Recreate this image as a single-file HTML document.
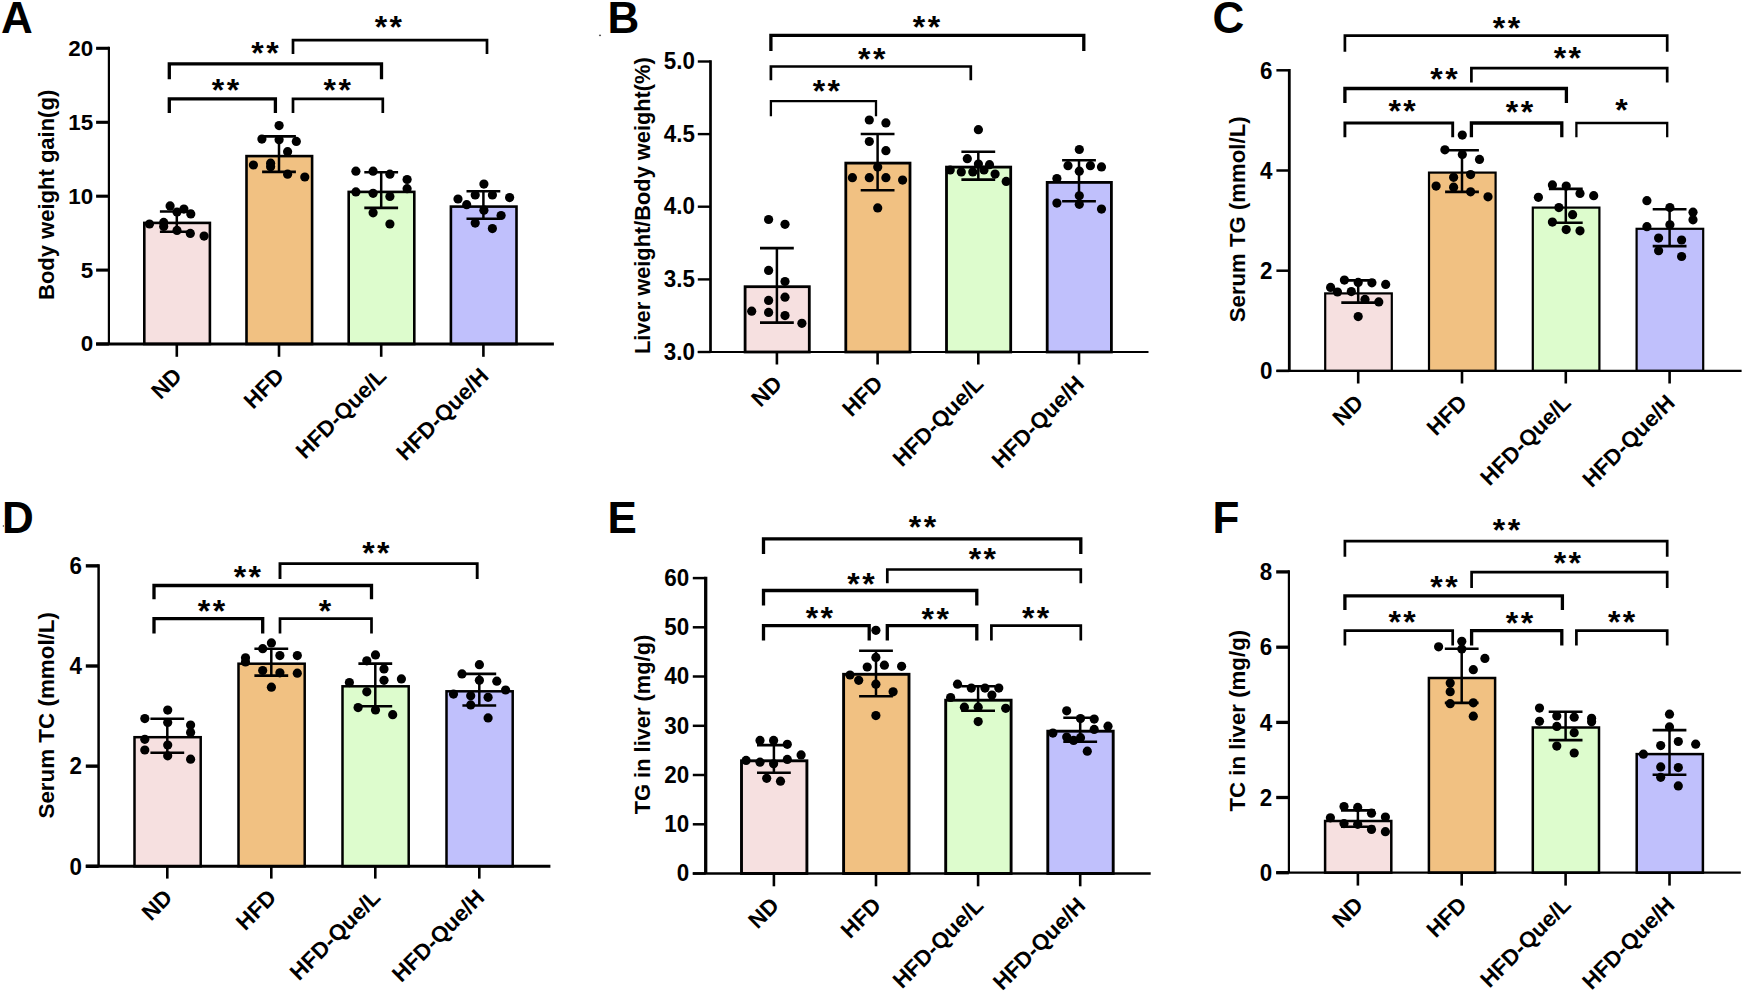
<!DOCTYPE html>
<html lang="en">
<head>
<meta charset="utf-8">
<title>Figure: body weight, liver index and lipid levels</title>
<style>
html,body{margin:0;padding:0;background:#fff;}
body{width:1744px;height:994px;overflow:hidden;}
svg{display:block;}
svg text{font-family:"Liberation Sans", Arial, Helvetica, sans-serif;font-weight:700;fill:#000;}
</style>
</head>
<body>
<svg width="1744" height="994" viewBox="0 0 1744 994">
<rect width="1744" height="994" fill="#fff"/>
<g>
<text x="0.9" y="32.6" font-size="44" text-anchor="start">A</text>
<rect x="144.3" y="222.9" width="65.6" height="121.1" fill="#f6e0e0" stroke="#000" stroke-width="2.6"/>
<rect x="246.5" y="156.1" width="65.6" height="187.9" fill="#f1c182" stroke="#000" stroke-width="2.6"/>
<rect x="348.7" y="191.9" width="65.6" height="152.1" fill="#ddfccd" stroke="#000" stroke-width="2.6"/>
<rect x="450.9" y="206.6" width="65.6" height="137.4" fill="#c0c0fc" stroke="#000" stroke-width="2.6"/>
<line x1="108.9" y1="46.75" x2="108.9" y2="344" stroke="#000" stroke-width="2.2" stroke-linecap="butt"/>
<line x1="96.1" y1="344" x2="553.9" y2="344" stroke="#000" stroke-width="3.2" stroke-linecap="butt"/>
<line x1="96.1" y1="48.3" x2="108.9" y2="48.3" stroke="#000" stroke-width="3.1" stroke-linecap="butt"/>
<text transform="translate(93.1 47.8) scale(1 1)" x="0" y="7.95" font-size="22.4" text-anchor="end">20</text>
<line x1="96.1" y1="122.3" x2="108.9" y2="122.3" stroke="#000" stroke-width="3.1" stroke-linecap="butt"/>
<text transform="translate(93.1 121.8) scale(1 1)" x="0" y="7.95" font-size="22.4" text-anchor="end">15</text>
<line x1="96.1" y1="196.2" x2="108.9" y2="196.2" stroke="#000" stroke-width="3.1" stroke-linecap="butt"/>
<text transform="translate(93.1 195.7) scale(1 1)" x="0" y="7.95" font-size="22.4" text-anchor="end">10</text>
<line x1="96.1" y1="270.1" x2="108.9" y2="270.1" stroke="#000" stroke-width="3.1" stroke-linecap="butt"/>
<text transform="translate(93.1 269.6) scale(1 1)" x="0" y="7.95" font-size="22.4" text-anchor="end">5</text>
<line x1="96.1" y1="344" x2="108.9" y2="344" stroke="#000" stroke-width="3.1" stroke-linecap="butt"/>
<text transform="translate(93.1 343.5) scale(1 1)" x="0" y="7.95" font-size="22.4" text-anchor="end">0</text>
<line x1="176.8" y1="344" x2="176.8" y2="356.8" stroke="#000" stroke-width="2.6" stroke-linecap="butt"/>
<text x="183.3" y="377.4" font-size="22.4" text-anchor="end" transform="rotate(-45 183.3 377.4)">ND</text>
<line x1="279" y1="344" x2="279" y2="356.8" stroke="#000" stroke-width="2.6" stroke-linecap="butt"/>
<text x="285.5" y="377.4" font-size="22.4" text-anchor="end" transform="rotate(-45 285.5 377.4)">HFD</text>
<line x1="381.2" y1="344" x2="381.2" y2="356.8" stroke="#000" stroke-width="2.6" stroke-linecap="butt"/>
<text x="387.7" y="377.4" font-size="22.4" text-anchor="end" transform="rotate(-45 387.7 377.4)">HFD-Que/L</text>
<line x1="483.4" y1="344" x2="483.4" y2="356.8" stroke="#000" stroke-width="2.6" stroke-linecap="butt"/>
<text x="489.9" y="377.4" font-size="22.4" text-anchor="end" transform="rotate(-45 489.9 377.4)">HFD-Que/H</text>
<text x="54.5" y="194.9" font-size="22" text-anchor="middle" transform="rotate(-90 54.5 194.9)">Body weight gain(g)</text>
<line x1="176.8" y1="211.5" x2="176.8" y2="231.8" stroke="#000" stroke-width="2.5" stroke-linecap="butt"/>
<line x1="159.9" y1="211.5" x2="193.7" y2="211.5" stroke="#000" stroke-width="2.6" stroke-linecap="butt"/>
<line x1="159.9" y1="231.8" x2="193.7" y2="231.8" stroke="#000" stroke-width="2.6" stroke-linecap="butt"/>
<line x1="279" y1="136.4" x2="279" y2="171.9" stroke="#000" stroke-width="2.5" stroke-linecap="butt"/>
<line x1="262.1" y1="136.4" x2="295.9" y2="136.4" stroke="#000" stroke-width="2.6" stroke-linecap="butt"/>
<line x1="262.1" y1="171.9" x2="295.9" y2="171.9" stroke="#000" stroke-width="2.6" stroke-linecap="butt"/>
<line x1="381.2" y1="172.3" x2="381.2" y2="207.9" stroke="#000" stroke-width="2.5" stroke-linecap="butt"/>
<line x1="364.3" y1="172.3" x2="398.1" y2="172.3" stroke="#000" stroke-width="2.6" stroke-linecap="butt"/>
<line x1="364.3" y1="207.9" x2="398.1" y2="207.9" stroke="#000" stroke-width="2.6" stroke-linecap="butt"/>
<line x1="483.4" y1="191.2" x2="483.4" y2="218.8" stroke="#000" stroke-width="2.5" stroke-linecap="butt"/>
<line x1="466.5" y1="191.2" x2="500.3" y2="191.2" stroke="#000" stroke-width="2.6" stroke-linecap="butt"/>
<line x1="466.5" y1="218.8" x2="500.3" y2="218.8" stroke="#000" stroke-width="2.6" stroke-linecap="butt"/>
<circle cx="149.5" cy="224" r="4.6"/>
<circle cx="163.7" cy="222.4" r="4.6"/>
<circle cx="163.7" cy="226.5" r="4.6"/>
<circle cx="170.1" cy="205.9" r="4.6"/>
<circle cx="177" cy="212.1" r="4.6"/>
<circle cx="183.9" cy="209.1" r="4.6"/>
<circle cx="190.8" cy="213.9" r="4.6"/>
<circle cx="177" cy="230.4" r="4.6"/>
<circle cx="190.3" cy="233.4" r="4.6"/>
<circle cx="204.1" cy="236.1" r="4.6"/>
<circle cx="279.1" cy="125.6" r="4.6"/>
<circle cx="261.9" cy="139.1" r="4.6"/>
<circle cx="279.1" cy="139.8" r="4.6"/>
<circle cx="296.3" cy="141.4" r="4.6"/>
<circle cx="287.6" cy="151.7" r="4.6"/>
<circle cx="253.4" cy="165" r="4.6"/>
<circle cx="270.6" cy="163.2" r="4.6"/>
<circle cx="270.6" cy="166.7" r="4.6"/>
<circle cx="287.6" cy="174.2" r="4.6"/>
<circle cx="304.8" cy="177" r="4.6"/>
<circle cx="355.9" cy="171.2" r="4.6"/>
<circle cx="373.1" cy="171.2" r="4.6"/>
<circle cx="389.9" cy="174.2" r="4.6"/>
<circle cx="407.1" cy="179.5" r="4.6"/>
<circle cx="407.1" cy="188.7" r="4.6"/>
<circle cx="355.9" cy="191.9" r="4.6"/>
<circle cx="373.1" cy="193.3" r="4.6"/>
<circle cx="389.9" cy="196.5" r="4.6"/>
<circle cx="373.1" cy="212.8" r="4.6"/>
<circle cx="389.9" cy="224" r="4.6"/>
<circle cx="483.9" cy="184.1" r="4.6"/>
<circle cx="475.2" cy="194.9" r="4.6"/>
<circle cx="492.4" cy="194.9" r="4.6"/>
<circle cx="458" cy="199" r="4.6"/>
<circle cx="509.6" cy="197.6" r="4.6"/>
<circle cx="466.7" cy="204.7" r="4.6"/>
<circle cx="483.9" cy="210.2" r="4.6"/>
<circle cx="501.1" cy="215.5" r="4.6"/>
<circle cx="475.2" cy="223.1" r="4.6"/>
<circle cx="492.4" cy="228.6" r="4.6"/>
<path d="M169.3 112.9V98.8H275.4V112.9" fill="none" stroke="#000" stroke-width="3.3" stroke-linejoin="miter"/>
<text x="226.7" y="101.12" font-size="32" text-anchor="middle" letter-spacing="2.4">**</text>
<path d="M293 112.9V98.8H382.8V112.9" fill="none" stroke="#000" stroke-width="2.7" stroke-linejoin="miter"/>
<text x="338.4" y="101.12" font-size="32" text-anchor="middle" letter-spacing="2.4">**</text>
<path d="M169.3 79.3V63.9H381.5V79.3" fill="none" stroke="#000" stroke-width="3.3" stroke-linejoin="miter"/>
<text x="266.2" y="63.52" font-size="32" text-anchor="middle" letter-spacing="2.4">**</text>
<path d="M293 53.9V40.2H487V53.9" fill="none" stroke="#000" stroke-width="2.7" stroke-linejoin="miter"/>
<text x="389.6" y="37.72" font-size="32" text-anchor="middle" letter-spacing="2.4">**</text>
</g>
<g>
<text x="607.5" y="32.6" font-size="44" text-anchor="start">B</text>
<rect x="745.1" y="286.7" width="64.2" height="65.3" fill="#f6e0e0" stroke="#000" stroke-width="2.8"/>
<rect x="845.8" y="163.1" width="64.2" height="188.9" fill="#f1c182" stroke="#000" stroke-width="2.8"/>
<rect x="946.5" y="167.1" width="64.2" height="184.9" fill="#ddfccd" stroke="#000" stroke-width="2.8"/>
<rect x="1047.2" y="182.4" width="64.2" height="169.6" fill="#c0c0fc" stroke="#000" stroke-width="2.8"/>
<line x1="710.5" y1="60.3" x2="710.5" y2="352" stroke="#000" stroke-width="2.7" stroke-linecap="butt"/>
<line x1="697.8" y1="352" x2="1148.5" y2="352" stroke="#000" stroke-width="2.2" stroke-linecap="butt"/>
<line x1="697.8" y1="61.5" x2="710.5" y2="61.5" stroke="#000" stroke-width="2.4" stroke-linecap="butt"/>
<text transform="translate(694.9 61) scale(1 1.04)" x="0" y="7.95" font-size="22.4" text-anchor="end">5.0</text>
<line x1="697.8" y1="134.1" x2="710.5" y2="134.1" stroke="#000" stroke-width="2.4" stroke-linecap="butt"/>
<text transform="translate(694.9 133.6) scale(1 1.04)" x="0" y="7.95" font-size="22.4" text-anchor="end">4.5</text>
<line x1="697.8" y1="206.7" x2="710.5" y2="206.7" stroke="#000" stroke-width="2.4" stroke-linecap="butt"/>
<text transform="translate(694.9 206.2) scale(1 1.04)" x="0" y="7.95" font-size="22.4" text-anchor="end">4.0</text>
<line x1="697.8" y1="279.4" x2="710.5" y2="279.4" stroke="#000" stroke-width="2.4" stroke-linecap="butt"/>
<text transform="translate(694.9 278.9) scale(1 1.04)" x="0" y="7.95" font-size="22.4" text-anchor="end">3.5</text>
<line x1="697.8" y1="352" x2="710.5" y2="352" stroke="#000" stroke-width="2.4" stroke-linecap="butt"/>
<text transform="translate(694.9 351.5) scale(1 1.04)" x="0" y="7.95" font-size="22.4" text-anchor="end">3.0</text>
<line x1="776.9" y1="352" x2="776.9" y2="364.5" stroke="#000" stroke-width="2.6" stroke-linecap="butt"/>
<text x="783.4" y="385.1" font-size="22.4" text-anchor="end" transform="rotate(-45 783.4 385.1)">ND</text>
<line x1="877.6" y1="352" x2="877.6" y2="364.5" stroke="#000" stroke-width="2.6" stroke-linecap="butt"/>
<text x="884.1" y="385.1" font-size="22.4" text-anchor="end" transform="rotate(-45 884.1 385.1)">HFD</text>
<line x1="978.3" y1="352" x2="978.3" y2="364.5" stroke="#000" stroke-width="2.6" stroke-linecap="butt"/>
<text x="984.8" y="385.1" font-size="22.4" text-anchor="end" transform="rotate(-45 984.8 385.1)">HFD-Que/L</text>
<line x1="1079" y1="352" x2="1079" y2="364.5" stroke="#000" stroke-width="2.6" stroke-linecap="butt"/>
<text x="1085.5" y="385.1" font-size="22.4" text-anchor="end" transform="rotate(-45 1085.5 385.1)">HFD-Que/H</text>
<text x="649.9" y="205.6" font-size="21.8" text-anchor="middle" transform="rotate(-90 649.9 205.6)">Liver weight/Body weight(%)</text>
<line x1="776.9" y1="248.1" x2="776.9" y2="322.6" stroke="#000" stroke-width="2.5" stroke-linecap="butt"/>
<line x1="760" y1="248.1" x2="793.8" y2="248.1" stroke="#000" stroke-width="2.6" stroke-linecap="butt"/>
<line x1="760" y1="322.6" x2="793.8" y2="322.6" stroke="#000" stroke-width="2.6" stroke-linecap="butt"/>
<line x1="877.6" y1="134" x2="877.6" y2="190.2" stroke="#000" stroke-width="2.5" stroke-linecap="butt"/>
<line x1="860.7" y1="134" x2="894.5" y2="134" stroke="#000" stroke-width="2.6" stroke-linecap="butt"/>
<line x1="860.7" y1="190.2" x2="894.5" y2="190.2" stroke="#000" stroke-width="2.6" stroke-linecap="butt"/>
<line x1="978.3" y1="151.7" x2="978.3" y2="179.6" stroke="#000" stroke-width="2.5" stroke-linecap="butt"/>
<line x1="961.4" y1="151.7" x2="995.2" y2="151.7" stroke="#000" stroke-width="2.6" stroke-linecap="butt"/>
<line x1="961.4" y1="179.6" x2="995.2" y2="179.6" stroke="#000" stroke-width="2.6" stroke-linecap="butt"/>
<line x1="1079" y1="160.3" x2="1079" y2="201.2" stroke="#000" stroke-width="2.5" stroke-linecap="butt"/>
<line x1="1062.1" y1="160.3" x2="1095.9" y2="160.3" stroke="#000" stroke-width="2.6" stroke-linecap="butt"/>
<line x1="1062.1" y1="201.2" x2="1095.9" y2="201.2" stroke="#000" stroke-width="2.6" stroke-linecap="butt"/>
<circle cx="768.6" cy="219.5" r="4.6"/>
<circle cx="785" cy="224.3" r="4.6"/>
<circle cx="768.6" cy="270.4" r="4.6"/>
<circle cx="785" cy="281.5" r="4.6"/>
<circle cx="768.6" cy="300.4" r="4.6"/>
<circle cx="785" cy="297.2" r="4.6"/>
<circle cx="751.7" cy="311.2" r="4.6"/>
<circle cx="768.6" cy="312.4" r="4.6"/>
<circle cx="785" cy="315.6" r="4.6"/>
<circle cx="801.9" cy="323.3" r="4.6"/>
<circle cx="869.3" cy="120" r="4.6"/>
<circle cx="885.9" cy="122.9" r="4.6"/>
<circle cx="869.3" cy="141.5" r="4.6"/>
<circle cx="885.9" cy="150.7" r="4.6"/>
<circle cx="877.7" cy="167.1" r="4.6"/>
<circle cx="852.4" cy="177.7" r="4.6"/>
<circle cx="869.3" cy="177.7" r="4.6"/>
<circle cx="885.9" cy="177.7" r="4.6"/>
<circle cx="902.6" cy="180.1" r="4.6"/>
<circle cx="877.7" cy="207.9" r="4.6"/>
<circle cx="978.4" cy="129.7" r="4.6"/>
<circle cx="967.3" cy="158.7" r="4.6"/>
<circle cx="978.4" cy="164" r="4.6"/>
<circle cx="989.5" cy="164.7" r="4.6"/>
<circle cx="984" cy="170" r="4.6"/>
<circle cx="950.2" cy="170" r="4.6"/>
<circle cx="961.3" cy="171.9" r="4.6"/>
<circle cx="972.8" cy="171.9" r="4.6"/>
<circle cx="995.1" cy="174.1" r="4.6"/>
<circle cx="1006.2" cy="181.4" r="4.6"/>
<circle cx="1079.3" cy="149.5" r="4.6"/>
<circle cx="1068" cy="165.7" r="4.6"/>
<circle cx="1090.4" cy="165.7" r="4.6"/>
<circle cx="1101.5" cy="166.9" r="4.6"/>
<circle cx="1079.3" cy="171.2" r="4.6"/>
<circle cx="1056.9" cy="178.5" r="4.6"/>
<circle cx="1079.3" cy="195.8" r="4.6"/>
<circle cx="1056.9" cy="203.1" r="4.6"/>
<circle cx="1079.3" cy="204.3" r="4.6"/>
<circle cx="1101.5" cy="209.1" r="4.6"/>
<path d="M770.9 116.2V101.1H876V116.2" fill="none" stroke="#000" stroke-width="2.3" stroke-linejoin="miter"/>
<text x="827.6" y="102.42" font-size="32" text-anchor="middle" letter-spacing="2.4">**</text>
<path d="M770.9 80.3V66.5H970.8V80.3" fill="none" stroke="#000" stroke-width="2.7" stroke-linejoin="miter"/>
<text x="872.9" y="70.22" font-size="32" text-anchor="middle" letter-spacing="2.4">**</text>
<path d="M770.9 51.1V35.3H1083.8V51.1" fill="none" stroke="#000" stroke-width="3.3" stroke-linejoin="miter"/>
<text x="927.7" y="38.02" font-size="32" text-anchor="middle" letter-spacing="2.4">**</text>
</g>
<g>
<text x="1212.5" y="32.6" font-size="44" text-anchor="start">C</text>
<rect x="1325.2" y="293.4" width="66.6" height="77.5" fill="#f6e0e0" stroke="#000" stroke-width="2.2"/>
<rect x="1429" y="172.6" width="66.6" height="198.3" fill="#f1c182" stroke="#000" stroke-width="2.2"/>
<rect x="1532.8" y="207.6" width="66.6" height="163.3" fill="#ddfccd" stroke="#000" stroke-width="2.2"/>
<rect x="1636.6" y="228.8" width="66.6" height="142.1" fill="#c0c0fc" stroke="#000" stroke-width="2.2"/>
<line x1="1289.3" y1="69.05" x2="1289.3" y2="370.9" stroke="#000" stroke-width="2.8" stroke-linecap="butt"/>
<line x1="1276.4" y1="370.9" x2="1741.6" y2="370.9" stroke="#000" stroke-width="2.1" stroke-linecap="butt"/>
<line x1="1276.4" y1="70.3" x2="1289.3" y2="70.3" stroke="#000" stroke-width="2.5" stroke-linecap="butt"/>
<text transform="translate(1272.5 69.8) scale(1 1.1)" x="0" y="7.95" font-size="22.4" text-anchor="end">6</text>
<line x1="1276.4" y1="170.5" x2="1289.3" y2="170.5" stroke="#000" stroke-width="2.5" stroke-linecap="butt"/>
<text transform="translate(1272.5 170) scale(1 1.1)" x="0" y="7.95" font-size="22.4" text-anchor="end">4</text>
<line x1="1276.4" y1="270.7" x2="1289.3" y2="270.7" stroke="#000" stroke-width="2.5" stroke-linecap="butt"/>
<text transform="translate(1272.5 270.2) scale(1 1.1)" x="0" y="7.95" font-size="22.4" text-anchor="end">2</text>
<line x1="1276.4" y1="370.9" x2="1289.3" y2="370.9" stroke="#000" stroke-width="2.5" stroke-linecap="butt"/>
<text transform="translate(1272.5 370.4) scale(1 1.1)" x="0" y="7.95" font-size="22.4" text-anchor="end">0</text>
<line x1="1358.2" y1="370.9" x2="1358.2" y2="383.5" stroke="#000" stroke-width="2.6" stroke-linecap="butt"/>
<text x="1364.7" y="404.1" font-size="22.4" text-anchor="end" transform="rotate(-45 1364.7 404.1)">ND</text>
<line x1="1462" y1="370.9" x2="1462" y2="383.5" stroke="#000" stroke-width="2.6" stroke-linecap="butt"/>
<text x="1468.5" y="404.1" font-size="22.4" text-anchor="end" transform="rotate(-45 1468.5 404.1)">HFD</text>
<line x1="1565.8" y1="370.9" x2="1565.8" y2="383.5" stroke="#000" stroke-width="2.6" stroke-linecap="butt"/>
<text x="1572.3" y="404.1" font-size="22.4" text-anchor="end" transform="rotate(-45 1572.3 404.1)">HFD-Que/L</text>
<line x1="1669.6" y1="370.9" x2="1669.6" y2="383.5" stroke="#000" stroke-width="2.6" stroke-linecap="butt"/>
<text x="1676.1" y="404.1" font-size="22.4" text-anchor="end" transform="rotate(-45 1676.1 404.1)">HFD-Que/H</text>
<text x="1245" y="219.3" font-size="22.2" text-anchor="middle" transform="rotate(-90 1245 219.3)">Serum TG (mmol/L)</text>
<line x1="1358.2" y1="280.4" x2="1358.2" y2="302.6" stroke="#000" stroke-width="2.5" stroke-linecap="butt"/>
<line x1="1341.3" y1="280.4" x2="1375.1" y2="280.4" stroke="#000" stroke-width="2.6" stroke-linecap="butt"/>
<line x1="1341.3" y1="302.6" x2="1375.1" y2="302.6" stroke="#000" stroke-width="2.6" stroke-linecap="butt"/>
<line x1="1462" y1="150.3" x2="1462" y2="191.9" stroke="#000" stroke-width="2.5" stroke-linecap="butt"/>
<line x1="1445.1" y1="150.3" x2="1478.9" y2="150.3" stroke="#000" stroke-width="2.6" stroke-linecap="butt"/>
<line x1="1445.1" y1="191.9" x2="1478.9" y2="191.9" stroke="#000" stroke-width="2.6" stroke-linecap="butt"/>
<line x1="1565.8" y1="188.9" x2="1565.8" y2="222.8" stroke="#000" stroke-width="2.5" stroke-linecap="butt"/>
<line x1="1548.9" y1="188.9" x2="1582.7" y2="188.9" stroke="#000" stroke-width="2.6" stroke-linecap="butt"/>
<line x1="1548.9" y1="222.8" x2="1582.7" y2="222.8" stroke="#000" stroke-width="2.6" stroke-linecap="butt"/>
<line x1="1669.6" y1="209.2" x2="1669.6" y2="246.1" stroke="#000" stroke-width="2.5" stroke-linecap="butt"/>
<line x1="1652.7" y1="209.2" x2="1686.5" y2="209.2" stroke="#000" stroke-width="2.6" stroke-linecap="butt"/>
<line x1="1652.7" y1="246.1" x2="1686.5" y2="246.1" stroke="#000" stroke-width="2.6" stroke-linecap="butt"/>
<circle cx="1344.4" cy="280.1" r="4.6"/>
<circle cx="1358.2" cy="282.4" r="4.6"/>
<circle cx="1371.9" cy="282.8" r="4.6"/>
<circle cx="1385.7" cy="284.4" r="4.6"/>
<circle cx="1330.6" cy="287.4" r="4.6"/>
<circle cx="1337.5" cy="292" r="4.6"/>
<circle cx="1351.3" cy="291.6" r="4.6"/>
<circle cx="1365" cy="299.4" r="4.6"/>
<circle cx="1378.8" cy="301.9" r="4.6"/>
<circle cx="1358.2" cy="316.6" r="4.6"/>
<circle cx="1462.3" cy="135.1" r="4.6"/>
<circle cx="1444.9" cy="149.8" r="4.6"/>
<circle cx="1462.3" cy="154.4" r="4.6"/>
<circle cx="1479.5" cy="159.4" r="4.6"/>
<circle cx="1470.6" cy="174.6" r="4.6"/>
<circle cx="1453.6" cy="177.3" r="4.6"/>
<circle cx="1436.1" cy="186.1" r="4.6"/>
<circle cx="1453.6" cy="187.2" r="4.6"/>
<circle cx="1470.6" cy="191.8" r="4.6"/>
<circle cx="1488" cy="196.8" r="4.6"/>
<circle cx="1552.4" cy="184.9" r="4.6"/>
<circle cx="1566.2" cy="186.1" r="4.6"/>
<circle cx="1580" cy="193.4" r="4.6"/>
<circle cx="1593.7" cy="195.7" r="4.6"/>
<circle cx="1538.4" cy="197.3" r="4.6"/>
<circle cx="1558.9" cy="207.6" r="4.6"/>
<circle cx="1572.6" cy="214.7" r="4.6"/>
<circle cx="1552.4" cy="222.1" r="4.6"/>
<circle cx="1566.2" cy="229.6" r="4.6"/>
<circle cx="1580" cy="230.8" r="4.6"/>
<circle cx="1646.9" cy="200.7" r="4.6"/>
<circle cx="1669.9" cy="207.6" r="4.6"/>
<circle cx="1693" cy="212.2" r="4.6"/>
<circle cx="1693" cy="219.8" r="4.6"/>
<circle cx="1646.9" cy="226.7" r="4.6"/>
<circle cx="1669.9" cy="224.8" r="4.6"/>
<circle cx="1658.6" cy="238.1" r="4.6"/>
<circle cx="1681.6" cy="240" r="4.6"/>
<circle cx="1658.6" cy="250.7" r="4.6"/>
<circle cx="1681.6" cy="256.5" r="4.6"/>
<path d="M1344.9 137.2V123H1452.7V137.2" fill="none" stroke="#000" stroke-width="2.9" stroke-linejoin="miter"/>
<text x="1403.3" y="122.32" font-size="32" text-anchor="middle" letter-spacing="2.4">**</text>
<path d="M1471.4 137.2V123H1561.8V137.2" fill="none" stroke="#000" stroke-width="3.3" stroke-linejoin="miter"/>
<text x="1520.7" y="123.32" font-size="32" text-anchor="middle" letter-spacing="2.4">**</text>
<path d="M1576.4 137.2V123H1667.2V137.2" fill="none" stroke="#000" stroke-width="2.3" stroke-linejoin="miter"/>
<text x="1621.6" y="120.72" font-size="32" text-anchor="middle">*</text>
<path d="M1344.9 102.9V88.5H1566.4V102.9" fill="none" stroke="#000" stroke-width="3.3" stroke-linejoin="miter"/>
<text x="1445.2" y="90.12" font-size="32" text-anchor="middle" letter-spacing="2.4">**</text>
<path d="M1471.4 82.6V68.2H1667.2V82.6" fill="none" stroke="#000" stroke-width="2.7" stroke-linejoin="miter"/>
<text x="1568.6" y="69.22" font-size="32" text-anchor="middle" letter-spacing="2.4">**</text>
<path d="M1344.9 51.7V35.6H1667.2V51.7" fill="none" stroke="#000" stroke-width="2.7" stroke-linejoin="miter"/>
<text x="1507.7" y="38.62" font-size="32" text-anchor="middle" letter-spacing="2.4">**</text>
</g>
<g>
<text x="1.9" y="533" font-size="44" text-anchor="start">D</text>
<rect x="134.5" y="737.2" width="66.2" height="129.1" fill="#f6e0e0" stroke="#000" stroke-width="2.5"/>
<rect x="238.5" y="663.7" width="66.2" height="202.6" fill="#f1c182" stroke="#000" stroke-width="2.5"/>
<rect x="342.5" y="686.3" width="66.2" height="180" fill="#ddfccd" stroke="#000" stroke-width="2.5"/>
<rect x="446.5" y="691.3" width="66.2" height="175" fill="#c0c0fc" stroke="#000" stroke-width="2.5"/>
<line x1="98.6" y1="564.15" x2="98.6" y2="866.3" stroke="#000" stroke-width="2.5" stroke-linecap="butt"/>
<line x1="85.8" y1="866.3" x2="550.4" y2="866.3" stroke="#000" stroke-width="3.1" stroke-linecap="butt"/>
<line x1="85.8" y1="565.85" x2="98.6" y2="565.85" stroke="#000" stroke-width="3.4" stroke-linecap="butt"/>
<text transform="translate(81.9 565.35) scale(1 1.1)" x="0" y="7.95" font-size="22.4" text-anchor="end">6</text>
<line x1="85.8" y1="666" x2="98.6" y2="666" stroke="#000" stroke-width="3.4" stroke-linecap="butt"/>
<text transform="translate(81.9 665.5) scale(1 1.1)" x="0" y="7.95" font-size="22.4" text-anchor="end">4</text>
<line x1="85.8" y1="766.15" x2="98.6" y2="766.15" stroke="#000" stroke-width="3.4" stroke-linecap="butt"/>
<text transform="translate(81.9 765.65) scale(1 1.1)" x="0" y="7.95" font-size="22.4" text-anchor="end">2</text>
<line x1="85.8" y1="866.3" x2="98.6" y2="866.3" stroke="#000" stroke-width="3.4" stroke-linecap="butt"/>
<text transform="translate(81.9 865.8) scale(1 1.1)" x="0" y="7.95" font-size="22.4" text-anchor="end">0</text>
<line x1="167.3" y1="866.3" x2="167.3" y2="878.6" stroke="#000" stroke-width="2.6" stroke-linecap="butt"/>
<text x="173.8" y="898.9" font-size="22.4" text-anchor="end" transform="rotate(-45 173.8 898.9)">ND</text>
<line x1="271.3" y1="866.3" x2="271.3" y2="878.6" stroke="#000" stroke-width="2.6" stroke-linecap="butt"/>
<text x="277.8" y="898.9" font-size="22.4" text-anchor="end" transform="rotate(-45 277.8 898.9)">HFD</text>
<line x1="375.3" y1="866.3" x2="375.3" y2="878.6" stroke="#000" stroke-width="2.6" stroke-linecap="butt"/>
<text x="381.8" y="898.9" font-size="22.4" text-anchor="end" transform="rotate(-45 381.8 898.9)">HFD-Que/L</text>
<line x1="479.3" y1="866.3" x2="479.3" y2="878.6" stroke="#000" stroke-width="2.6" stroke-linecap="butt"/>
<text x="485.8" y="898.9" font-size="22.4" text-anchor="end" transform="rotate(-45 485.8 898.9)">HFD-Que/H</text>
<text x="54.4" y="715.3" font-size="22.4" text-anchor="middle" transform="rotate(-90 54.4 715.3)">Serum TC (mmol/L)</text>
<line x1="167.3" y1="718.8" x2="167.3" y2="752.8" stroke="#000" stroke-width="2.5" stroke-linecap="butt"/>
<line x1="150.4" y1="718.8" x2="184.2" y2="718.8" stroke="#000" stroke-width="2.6" stroke-linecap="butt"/>
<line x1="150.4" y1="752.8" x2="184.2" y2="752.8" stroke="#000" stroke-width="2.6" stroke-linecap="butt"/>
<line x1="271.3" y1="648.7" x2="271.3" y2="675.6" stroke="#000" stroke-width="2.5" stroke-linecap="butt"/>
<line x1="254.4" y1="648.7" x2="288.2" y2="648.7" stroke="#000" stroke-width="2.6" stroke-linecap="butt"/>
<line x1="254.4" y1="675.6" x2="288.2" y2="675.6" stroke="#000" stroke-width="2.6" stroke-linecap="butt"/>
<line x1="375.3" y1="663.6" x2="375.3" y2="706.2" stroke="#000" stroke-width="2.5" stroke-linecap="butt"/>
<line x1="358.4" y1="663.6" x2="392.2" y2="663.6" stroke="#000" stroke-width="2.6" stroke-linecap="butt"/>
<line x1="358.4" y1="706.2" x2="392.2" y2="706.2" stroke="#000" stroke-width="2.6" stroke-linecap="butt"/>
<line x1="479.3" y1="673.9" x2="479.3" y2="705.5" stroke="#000" stroke-width="2.5" stroke-linecap="butt"/>
<line x1="462.4" y1="673.9" x2="496.2" y2="673.9" stroke="#000" stroke-width="2.6" stroke-linecap="butt"/>
<line x1="462.4" y1="705.5" x2="496.2" y2="705.5" stroke="#000" stroke-width="2.6" stroke-linecap="butt"/>
<circle cx="167.7" cy="710.1" r="4.6"/>
<circle cx="144.8" cy="718.6" r="4.6"/>
<circle cx="167.7" cy="722.5" r="4.6"/>
<circle cx="190.6" cy="725" r="4.6"/>
<circle cx="190.6" cy="732.4" r="4.6"/>
<circle cx="144.8" cy="739.3" r="4.6"/>
<circle cx="167.7" cy="745" r="4.6"/>
<circle cx="144.8" cy="750" r="4.6"/>
<circle cx="167.7" cy="755.8" r="4.6"/>
<circle cx="190.6" cy="759.2" r="4.6"/>
<circle cx="271.4" cy="642.9" r="4.6"/>
<circle cx="262.7" cy="648.7" r="4.6"/>
<circle cx="279.9" cy="655.6" r="4.6"/>
<circle cx="297.3" cy="655.6" r="4.6"/>
<circle cx="245.5" cy="657.8" r="4.6"/>
<circle cx="245.5" cy="662" r="4.6"/>
<circle cx="262.7" cy="670.5" r="4.6"/>
<circle cx="279.9" cy="672.8" r="4.6"/>
<circle cx="297.3" cy="673.2" r="4.6"/>
<circle cx="271.4" cy="687.2" r="4.6"/>
<circle cx="375.5" cy="654.9" r="4.6"/>
<circle cx="366.8" cy="660.8" r="4.6"/>
<circle cx="384" cy="668.9" r="4.6"/>
<circle cx="384" cy="680.3" r="4.6"/>
<circle cx="401.4" cy="678.9" r="4.6"/>
<circle cx="349.4" cy="682.6" r="4.6"/>
<circle cx="366.8" cy="691.8" r="4.6"/>
<circle cx="358.1" cy="707.6" r="4.6"/>
<circle cx="375.5" cy="709.9" r="4.6"/>
<circle cx="392.7" cy="714.7" r="4.6"/>
<circle cx="479.4" cy="664.7" r="4.6"/>
<circle cx="462" cy="673.9" r="4.6"/>
<circle cx="479.4" cy="680.3" r="4.6"/>
<circle cx="496.8" cy="681.2" r="4.6"/>
<circle cx="505.6" cy="690" r="4.6"/>
<circle cx="453.5" cy="694.1" r="4.6"/>
<circle cx="470.7" cy="695.7" r="4.6"/>
<circle cx="488.1" cy="697.3" r="4.6"/>
<circle cx="470.7" cy="704.9" r="4.6"/>
<circle cx="488.1" cy="717.9" r="4.6"/>
<path d="M154 633.5V618.7H262.7V633.5" fill="none" stroke="#000" stroke-width="3.3" stroke-linejoin="miter"/>
<text x="212.7" y="622.42" font-size="32" text-anchor="middle" letter-spacing="2.4">**</text>
<path d="M280 633.5V618.7H371.5V633.5" fill="none" stroke="#000" stroke-width="2.7" stroke-linejoin="miter"/>
<text x="324.9" y="621.72" font-size="32" text-anchor="middle">*</text>
<path d="M154 599.3V585.5H371.5V599.3" fill="none" stroke="#000" stroke-width="3.3" stroke-linejoin="miter"/>
<text x="248.6" y="587.82" font-size="32" text-anchor="middle" letter-spacing="2.4">**</text>
<path d="M280 578.9V563.6H477.2V578.9" fill="none" stroke="#000" stroke-width="2.9" stroke-linejoin="miter"/>
<text x="377" y="564.22" font-size="32" text-anchor="middle" letter-spacing="2.4">**</text>
</g>
<g>
<text x="607.5" y="533" font-size="44" text-anchor="start">E</text>
<rect x="741.5" y="760.8" width="65.4" height="112.7" fill="#f6e0e0" stroke="#000" stroke-width="2.9"/>
<rect x="843.6" y="674.3" width="65.4" height="199.2" fill="#f1c182" stroke="#000" stroke-width="2.9"/>
<rect x="945.7" y="700.2" width="65.4" height="173.3" fill="#ddfccd" stroke="#000" stroke-width="2.9"/>
<rect x="1047.8" y="731.2" width="65.4" height="142.3" fill="#c0c0fc" stroke="#000" stroke-width="2.9"/>
<line x1="705.7" y1="576.85" x2="705.7" y2="873.5" stroke="#000" stroke-width="3.3" stroke-linecap="butt"/>
<line x1="692.8" y1="873.5" x2="1150.7" y2="873.5" stroke="#000" stroke-width="2.3" stroke-linecap="butt"/>
<line x1="692.8" y1="578.1" x2="705.7" y2="578.1" stroke="#000" stroke-width="2.5" stroke-linecap="butt"/>
<text transform="translate(689.1 577.6) scale(1 1.05)" x="0" y="7.95" font-size="22.4" text-anchor="end">60</text>
<line x1="692.8" y1="627.3" x2="705.7" y2="627.3" stroke="#000" stroke-width="2.5" stroke-linecap="butt"/>
<text transform="translate(689.1 626.8) scale(1 1.05)" x="0" y="7.95" font-size="22.4" text-anchor="end">50</text>
<line x1="692.8" y1="676.5" x2="705.7" y2="676.5" stroke="#000" stroke-width="2.5" stroke-linecap="butt"/>
<text transform="translate(689.1 676) scale(1 1.05)" x="0" y="7.95" font-size="22.4" text-anchor="end">40</text>
<line x1="692.8" y1="725.8" x2="705.7" y2="725.8" stroke="#000" stroke-width="2.5" stroke-linecap="butt"/>
<text transform="translate(689.1 725.3) scale(1 1.05)" x="0" y="7.95" font-size="22.4" text-anchor="end">30</text>
<line x1="692.8" y1="775" x2="705.7" y2="775" stroke="#000" stroke-width="2.5" stroke-linecap="butt"/>
<text transform="translate(689.1 774.5) scale(1 1.05)" x="0" y="7.95" font-size="22.4" text-anchor="end">20</text>
<line x1="692.8" y1="824.3" x2="705.7" y2="824.3" stroke="#000" stroke-width="2.5" stroke-linecap="butt"/>
<text transform="translate(689.1 823.8) scale(1 1.05)" x="0" y="7.95" font-size="22.4" text-anchor="end">10</text>
<line x1="692.8" y1="873.5" x2="705.7" y2="873.5" stroke="#000" stroke-width="2.5" stroke-linecap="butt"/>
<text transform="translate(689.1 873) scale(1 1.05)" x="0" y="7.95" font-size="22.4" text-anchor="end">0</text>
<line x1="773.9" y1="873.5" x2="773.9" y2="886.3" stroke="#000" stroke-width="2.6" stroke-linecap="butt"/>
<text x="780.4" y="906.9" font-size="22.4" text-anchor="end" transform="rotate(-45 780.4 906.9)">ND</text>
<line x1="876" y1="873.5" x2="876" y2="886.3" stroke="#000" stroke-width="2.6" stroke-linecap="butt"/>
<text x="882.5" y="906.9" font-size="22.4" text-anchor="end" transform="rotate(-45 882.5 906.9)">HFD</text>
<line x1="978.1" y1="873.5" x2="978.1" y2="886.3" stroke="#000" stroke-width="2.6" stroke-linecap="butt"/>
<text x="984.6" y="906.9" font-size="22.4" text-anchor="end" transform="rotate(-45 984.6 906.9)">HFD-Que/L</text>
<line x1="1080.2" y1="873.5" x2="1080.2" y2="886.3" stroke="#000" stroke-width="2.6" stroke-linecap="butt"/>
<text x="1086.7" y="906.9" font-size="22.4" text-anchor="end" transform="rotate(-45 1086.7 906.9)">HFD-Que/H</text>
<text x="650.3" y="724.5" font-size="21.85" text-anchor="middle" transform="rotate(-90 650.3 724.5)">TG in liver (mg/g)</text>
<line x1="773.9" y1="745.1" x2="773.9" y2="772.7" stroke="#000" stroke-width="2.5" stroke-linecap="butt"/>
<line x1="757" y1="745.1" x2="790.8" y2="745.1" stroke="#000" stroke-width="2.6" stroke-linecap="butt"/>
<line x1="757" y1="772.7" x2="790.8" y2="772.7" stroke="#000" stroke-width="2.6" stroke-linecap="butt"/>
<line x1="876" y1="650.7" x2="876" y2="696.2" stroke="#000" stroke-width="2.5" stroke-linecap="butt"/>
<line x1="859.1" y1="650.7" x2="892.9" y2="650.7" stroke="#000" stroke-width="2.6" stroke-linecap="butt"/>
<line x1="859.1" y1="696.2" x2="892.9" y2="696.2" stroke="#000" stroke-width="2.6" stroke-linecap="butt"/>
<line x1="978.1" y1="686.2" x2="978.1" y2="710.8" stroke="#000" stroke-width="2.5" stroke-linecap="butt"/>
<line x1="961.2" y1="686.2" x2="995" y2="686.2" stroke="#000" stroke-width="2.6" stroke-linecap="butt"/>
<line x1="961.2" y1="710.8" x2="995" y2="710.8" stroke="#000" stroke-width="2.6" stroke-linecap="butt"/>
<line x1="1080.2" y1="717.8" x2="1080.2" y2="741.8" stroke="#000" stroke-width="2.5" stroke-linecap="butt"/>
<line x1="1063.3" y1="717.8" x2="1097.1" y2="717.8" stroke="#000" stroke-width="2.6" stroke-linecap="butt"/>
<line x1="1063.3" y1="741.8" x2="1097.1" y2="741.8" stroke="#000" stroke-width="2.6" stroke-linecap="butt"/>
<circle cx="760" cy="740.4" r="4.6"/>
<circle cx="773.6" cy="740.4" r="4.6"/>
<circle cx="787.3" cy="744.3" r="4.6"/>
<circle cx="801.1" cy="754.9" r="4.6"/>
<circle cx="746.1" cy="760.4" r="4.6"/>
<circle cx="760" cy="762.2" r="4.6"/>
<circle cx="773.6" cy="763.8" r="4.6"/>
<circle cx="787.3" cy="759.4" r="4.6"/>
<circle cx="766.7" cy="778.3" r="4.6"/>
<circle cx="780.5" cy="781.2" r="4.6"/>
<circle cx="875.9" cy="630.3" r="4.6"/>
<circle cx="875.9" cy="657.4" r="4.6"/>
<circle cx="867.2" cy="667" r="4.6"/>
<circle cx="884.4" cy="665.2" r="4.6"/>
<circle cx="901.6" cy="666.3" r="4.6"/>
<circle cx="850" cy="675" r="4.6"/>
<circle cx="858.7" cy="680.3" r="4.6"/>
<circle cx="875.9" cy="684.2" r="4.6"/>
<circle cx="893.1" cy="691.8" r="4.6"/>
<circle cx="875.9" cy="715.6" r="4.6"/>
<circle cx="957.5" cy="684.2" r="4.6"/>
<circle cx="971.3" cy="688.1" r="4.6"/>
<circle cx="985" cy="688.1" r="4.6"/>
<circle cx="998.8" cy="688.1" r="4.6"/>
<circle cx="991.9" cy="695" r="4.6"/>
<circle cx="950.6" cy="697.5" r="4.6"/>
<circle cx="964.4" cy="707.2" r="4.6"/>
<circle cx="978.2" cy="707.2" r="4.6"/>
<circle cx="1005.7" cy="708.3" r="4.6"/>
<circle cx="978.2" cy="721.6" r="4.6"/>
<circle cx="1066.7" cy="710.8" r="4.6"/>
<circle cx="1080.5" cy="718.6" r="4.6"/>
<circle cx="1094.2" cy="719.1" r="4.6"/>
<circle cx="1108" cy="726.2" r="4.6"/>
<circle cx="1094.2" cy="729.4" r="4.6"/>
<circle cx="1052.9" cy="733.1" r="4.6"/>
<circle cx="1066.7" cy="737" r="4.6"/>
<circle cx="1080.5" cy="737.7" r="4.6"/>
<circle cx="1073.6" cy="740.4" r="4.6"/>
<circle cx="1087.3" cy="751.2" r="4.6"/>
<path d="M763.5 640.4V625.7H869.2V640.4" fill="none" stroke="#000" stroke-width="3.3" stroke-linejoin="miter"/>
<text x="820.6" y="629.42" font-size="32" text-anchor="middle" letter-spacing="2.4">**</text>
<path d="M887.3 640.4V625.7H976.8V640.4" fill="none" stroke="#000" stroke-width="3.3" stroke-linejoin="miter"/>
<text x="936.4" y="629.92" font-size="32" text-anchor="middle" letter-spacing="2.4">**</text>
<path d="M991.4 640.4V625.7H1080.8V640.4" fill="none" stroke="#000" stroke-width="2.7" stroke-linejoin="miter"/>
<text x="1036.8" y="629.42" font-size="32" text-anchor="middle" letter-spacing="2.4">**</text>
<path d="M763.5 605.5V590.5H976.8V605.5" fill="none" stroke="#000" stroke-width="3.3" stroke-linejoin="miter"/>
<text x="862.2" y="595.12" font-size="32" text-anchor="middle" letter-spacing="2.4">**</text>
<path d="M887.3 583.2V569.5H1080.8V583.2" fill="none" stroke="#000" stroke-width="2.7" stroke-linejoin="miter"/>
<text x="983.6" y="569.52" font-size="32" text-anchor="middle" letter-spacing="2.4">**</text>
<path d="M763.5 553.9V538.9H1080.8V553.9" fill="none" stroke="#000" stroke-width="3.3" stroke-linejoin="miter"/>
<text x="923.7" y="537.62" font-size="32" text-anchor="middle" letter-spacing="2.4">**</text>
</g>
<g>
<text x="1212.5" y="533" font-size="44" text-anchor="start">F</text>
<rect x="1325.1" y="821" width="66.2" height="51.7" fill="#f6e0e0" stroke="#000" stroke-width="2.5"/>
<rect x="1428.9" y="678" width="66.2" height="194.7" fill="#f1c182" stroke="#000" stroke-width="2.5"/>
<rect x="1532.8" y="727.5" width="66.2" height="145.2" fill="#ddfccd" stroke="#000" stroke-width="2.5"/>
<rect x="1636.7" y="754.1" width="66.2" height="118.6" fill="#c0c0fc" stroke="#000" stroke-width="2.5"/>
<line x1="1288.9" y1="570.25" x2="1288.9" y2="872.7" stroke="#000" stroke-width="2.2" stroke-linecap="butt"/>
<line x1="1276.2" y1="872.7" x2="1740.8" y2="872.7" stroke="#000" stroke-width="2.2" stroke-linecap="butt"/>
<line x1="1276.2" y1="571.9" x2="1288.9" y2="571.9" stroke="#000" stroke-width="3.3" stroke-linecap="butt"/>
<text transform="translate(1272.3 571.4) scale(1 1.1)" x="0" y="7.95" font-size="22.4" text-anchor="end">8</text>
<line x1="1276.2" y1="647.2" x2="1288.9" y2="647.2" stroke="#000" stroke-width="3.3" stroke-linecap="butt"/>
<text transform="translate(1272.3 646.7) scale(1 1.1)" x="0" y="7.95" font-size="22.4" text-anchor="end">6</text>
<line x1="1276.2" y1="722.4" x2="1288.9" y2="722.4" stroke="#000" stroke-width="3.3" stroke-linecap="butt"/>
<text transform="translate(1272.3 721.9) scale(1 1.1)" x="0" y="7.95" font-size="22.4" text-anchor="end">4</text>
<line x1="1276.2" y1="797.5" x2="1288.9" y2="797.5" stroke="#000" stroke-width="3.3" stroke-linecap="butt"/>
<text transform="translate(1272.3 797) scale(1 1.1)" x="0" y="7.95" font-size="22.4" text-anchor="end">2</text>
<line x1="1276.2" y1="872.7" x2="1288.9" y2="872.7" stroke="#000" stroke-width="3.3" stroke-linecap="butt"/>
<text transform="translate(1272.3 872.2) scale(1 1.1)" x="0" y="7.95" font-size="22.4" text-anchor="end">0</text>
<line x1="1357.9" y1="872.7" x2="1357.9" y2="885.6" stroke="#000" stroke-width="2.6" stroke-linecap="butt"/>
<text x="1364.4" y="906.2" font-size="22.4" text-anchor="end" transform="rotate(-45 1364.4 906.2)">ND</text>
<line x1="1461.7" y1="872.7" x2="1461.7" y2="885.6" stroke="#000" stroke-width="2.6" stroke-linecap="butt"/>
<text x="1468.2" y="906.2" font-size="22.4" text-anchor="end" transform="rotate(-45 1468.2 906.2)">HFD</text>
<line x1="1565.6" y1="872.7" x2="1565.6" y2="885.6" stroke="#000" stroke-width="2.6" stroke-linecap="butt"/>
<text x="1572.1" y="906.2" font-size="22.4" text-anchor="end" transform="rotate(-45 1572.1 906.2)">HFD-Que/L</text>
<line x1="1669.5" y1="872.7" x2="1669.5" y2="885.6" stroke="#000" stroke-width="2.6" stroke-linecap="butt"/>
<text x="1676" y="906.2" font-size="22.4" text-anchor="end" transform="rotate(-45 1676 906.2)">HFD-Que/H</text>
<text x="1245.4" y="720.7" font-size="22.25" text-anchor="middle" transform="rotate(-90 1245.4 720.7)">TC in liver (mg/g)</text>
<line x1="1357.9" y1="810.4" x2="1357.9" y2="826.7" stroke="#000" stroke-width="2.5" stroke-linecap="butt"/>
<line x1="1341" y1="810.4" x2="1374.8" y2="810.4" stroke="#000" stroke-width="2.6" stroke-linecap="butt"/>
<line x1="1341" y1="826.7" x2="1374.8" y2="826.7" stroke="#000" stroke-width="2.6" stroke-linecap="butt"/>
<line x1="1461.7" y1="648.7" x2="1461.7" y2="702.9" stroke="#000" stroke-width="2.5" stroke-linecap="butt"/>
<line x1="1444.8" y1="648.7" x2="1478.6" y2="648.7" stroke="#000" stroke-width="2.6" stroke-linecap="butt"/>
<line x1="1444.8" y1="702.9" x2="1478.6" y2="702.9" stroke="#000" stroke-width="2.6" stroke-linecap="butt"/>
<line x1="1565.6" y1="711.8" x2="1565.6" y2="740.1" stroke="#000" stroke-width="2.5" stroke-linecap="butt"/>
<line x1="1548.7" y1="711.8" x2="1582.5" y2="711.8" stroke="#000" stroke-width="2.6" stroke-linecap="butt"/>
<line x1="1548.7" y1="740.1" x2="1582.5" y2="740.1" stroke="#000" stroke-width="2.6" stroke-linecap="butt"/>
<line x1="1669.5" y1="730.1" x2="1669.5" y2="774.7" stroke="#000" stroke-width="2.5" stroke-linecap="butt"/>
<line x1="1652.6" y1="730.1" x2="1686.4" y2="730.1" stroke="#000" stroke-width="2.6" stroke-linecap="butt"/>
<line x1="1652.6" y1="774.7" x2="1686.4" y2="774.7" stroke="#000" stroke-width="2.6" stroke-linecap="butt"/>
<circle cx="1344" cy="806.5" r="4.6"/>
<circle cx="1357.7" cy="807.4" r="4.6"/>
<circle cx="1371.5" cy="813.2" r="4.6"/>
<circle cx="1385.4" cy="817.1" r="4.6"/>
<circle cx="1330.4" cy="817.8" r="4.6"/>
<circle cx="1344" cy="823.6" r="4.6"/>
<circle cx="1357.7" cy="824.3" r="4.6"/>
<circle cx="1371.5" cy="829.4" r="4.6"/>
<circle cx="1385.4" cy="831.7" r="4.6"/>
<circle cx="1461.8" cy="641.3" r="4.6"/>
<circle cx="1461.8" cy="649" r="4.6"/>
<circle cx="1438.6" cy="646.8" r="4.6"/>
<circle cx="1484.9" cy="658.4" r="4.6"/>
<circle cx="1473.3" cy="669.7" r="4.6"/>
<circle cx="1450.2" cy="682.9" r="4.6"/>
<circle cx="1450.2" cy="691.7" r="4.6"/>
<circle cx="1450.2" cy="703.7" r="4.6"/>
<circle cx="1473.3" cy="702.8" r="4.6"/>
<circle cx="1473.3" cy="716.2" r="4.6"/>
<circle cx="1539.5" cy="708.1" r="4.6"/>
<circle cx="1556.8" cy="716" r="4.6"/>
<circle cx="1574.2" cy="717.2" r="4.6"/>
<circle cx="1591.6" cy="718.3" r="4.6"/>
<circle cx="1539.5" cy="721.3" r="4.6"/>
<circle cx="1591.6" cy="721.8" r="4.6"/>
<circle cx="1556.8" cy="726.4" r="4.6"/>
<circle cx="1574.2" cy="732.7" r="4.6"/>
<circle cx="1556.8" cy="746.1" r="4.6"/>
<circle cx="1574.2" cy="753" r="4.6"/>
<circle cx="1669.5" cy="714.2" r="4.6"/>
<circle cx="1669.5" cy="726.9" r="4.6"/>
<circle cx="1678.3" cy="741.5" r="4.6"/>
<circle cx="1660.7" cy="745.6" r="4.6"/>
<circle cx="1695.7" cy="744.2" r="4.6"/>
<circle cx="1643.4" cy="754.2" r="4.6"/>
<circle cx="1660.7" cy="766.9" r="4.6"/>
<circle cx="1678.3" cy="767.6" r="4.6"/>
<circle cx="1660.7" cy="777.3" r="4.6"/>
<circle cx="1678.3" cy="785.9" r="4.6"/>
<path d="M1344.9 645.5V630.7H1452.7V645.5" fill="none" stroke="#000" stroke-width="2.7" stroke-linejoin="miter"/>
<text x="1403.3" y="633.42" font-size="32" text-anchor="middle" letter-spacing="2.4">**</text>
<path d="M1471.6 645.5V630.7H1561.8V645.5" fill="none" stroke="#000" stroke-width="3.3" stroke-linejoin="miter"/>
<text x="1520.7" y="634.32" font-size="32" text-anchor="middle" letter-spacing="2.4">**</text>
<path d="M1576.4 645.5V630.7H1667.2V645.5" fill="none" stroke="#000" stroke-width="2.7" stroke-linejoin="miter"/>
<text x="1622.8" y="633.42" font-size="32" text-anchor="middle" letter-spacing="2.4">**</text>
<path d="M1344.9 609.9V595.8H1562.4V609.9" fill="none" stroke="#000" stroke-width="3.3" stroke-linejoin="miter"/>
<text x="1445.2" y="598.42" font-size="32" text-anchor="middle" letter-spacing="2.4">**</text>
<path d="M1471.6 587.9V572.2H1667.2V587.9" fill="none" stroke="#000" stroke-width="2.7" stroke-linejoin="miter"/>
<text x="1568.6" y="573.52" font-size="32" text-anchor="middle" letter-spacing="2.4">**</text>
<path d="M1344.9 556.7V541.2H1667.2V556.7" fill="none" stroke="#000" stroke-width="2.7" stroke-linejoin="miter"/>
<text x="1507.7" y="541.22" font-size="32" text-anchor="middle" letter-spacing="2.4">**</text>
</g>
<ellipse cx="600" cy="35.4" rx="1.1" ry="0.8" fill="#555"/>
<ellipse cx="3.4" cy="526" rx="0.7" ry="1.1" fill="#666"/>
</svg>
</body>
</html>
